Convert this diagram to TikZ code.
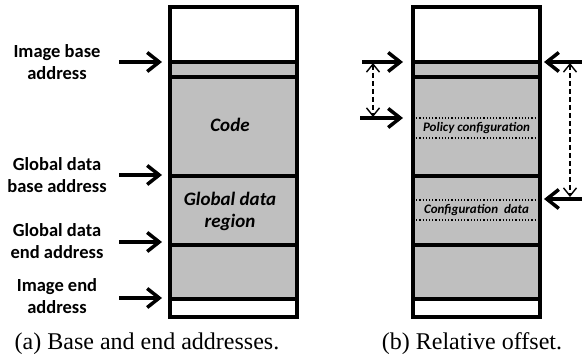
\documentclass[tikz,border=0pt]{standalone}
\usepackage{fontspec}
\setmainfont{Liberation Serif}
\newfontfamily\lblfont{Carlito}
\usetikzlibrary{arrows.meta,positioning}
\tikzset{
    wall/.style={line width=4.5pt},
    ptr/.style={line width=3.5pt, shorten >=1pt,
        -{Straight Barb[length=12pt,width=19pt,line width=3.5pt]}},
    offs/.style={dashed, dash pattern=on 5pt off 3pt, line width=1.4pt,
        {Straight Barb[length=8pt,width=13pt,line width=1.4pt]}-{Straight Barb[length=8pt,width=13pt,line width=1.4pt]}},
    addr/.style={font=\lblfont\bfseries\fontsize{18.5}{22}\selectfont, align=center},
    inner/.style={font=\lblfont\bfseries\itshape\fontsize{19}{22}\selectfont, align=center},
    small/.style={font=\lblfont\bfseries\itshape\fontsize{13}{14}\selectfont},
    sub/.style={font=\fontsize{24}{28}\selectfont}}

\begin{document}
\begin{tikzpicture}[x=1pt,y=-1pt]
    \useasboundingbox (0,0) rectangle (582,358);

    % the two memory images
    \foreach \x/\n in {170/a,413/b} {
        \fill[black!25] (\x,62) rectangle ++(127,237);
        \foreach \y in {62,77,176,245,299} \draw[wall] (\x,\y) -- ++(127,0);
        \draw[wall] (\x,7) rectangle ++(127,310);
        \coordinate (\n-l) at (\x,0);
        \coordinate (\n-r) at (\x+127,0);
    }

    % (a) address labels
    \node[addr] (imgbase) at (57,62) {Image base\\address};
    \node[addr] (gdbase) at (57,175) {Global data\\base address};
    \node[addr] (gdend) at (57,241) {Global data\\end address};
    \node[addr] (imgend) at (57,296) {Image end\\address};
    \foreach \y/\t in {62/imgbase,175/gdbase,242/gdend,298/imgend} {
        \coordinate (\t-tail) at (119,\y);
        \draw[ptr, shorten >=8pt] (\t-tail) -- (\t-tail -| a-l);
    }

    \node[inner] (code) at (230,125) {Code};
    \node[inner] (gdata) at (230,211) {Global data\\region};

    % (b) offsets
    \foreach \y in {118,138,200,220}
        \draw[dotted, line width=1.2pt] (b-l |- 0,\y) -- (b-r |- 0,\y);
    \node[small] (policy) at (476.5,128) {Policy configuration};
    \node[small] (config) at (476.5,210) {Configuration\ \ data};

    \coordinate (lbase) at (362,62);
    \coordinate (lpol) at (360,118);
    \coordinate (rbase) at (582,62);
    \coordinate (rconf) at (582,199);
    \draw[ptr, shorten >=10pt] (lbase) -- (lbase -| b-l);
    \draw[ptr, shorten >=10pt] (lpol) -- (lpol -| b-l);
    \draw[ptr, shorten >=4pt] (rbase) -- (rbase -| b-r);
    \draw[ptr, shorten >=4pt] (rconf) -- (rconf -| b-r);
    \draw[offs] (373,63) -- (373,117);
    \draw[offs] (570,63) -- (570,197);

    % sub-captions
    \node[sub] (capa) at (147,344) {(a) Base and end addresses.};
    \node[sub] (capb) at (472,344) {(b) Relative offset.};
\end{tikzpicture}
\end{document}
